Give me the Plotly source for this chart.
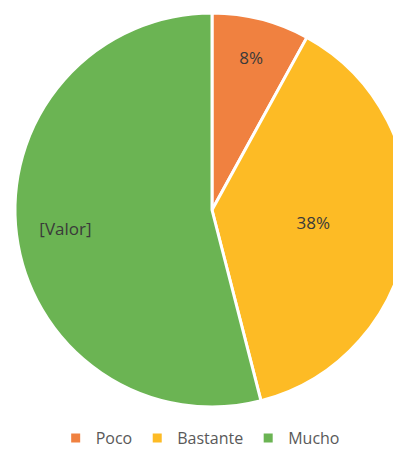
import plotly.graph_objects as go

categories = ["Poco", "Bastante", "Mucho"]
values = [8, 38, 54]
colors = ["#F08140", "#FDBB25", "#6BB453"]
# labels drawn on the full pie, and the one drawn further out on the ring
inner_text = ["%{percent:.0%}", "%{percent:.0%}", ""]
ring_text = ["", "", "[Valor]"]

label_font = dict(family="Open Sans", size=17, color="#3a3a3a")

fig = go.Figure()

fig.add_trace(go.Pie(
    labels=categories,
    values=values,
    sort=False,
    direction="clockwise",
    rotation=0,
    texttemplate=inner_text,
    textposition="inside",
    insidetextorientation="horizontal",
    textfont=label_font,
    marker=dict(colors=colors, line=dict(color="white", width=3)),
    hoverinfo="label+percent",
))

# transparent ring on top, only used to place the "[Valor]" label further out
fig.add_trace(go.Pie(
    labels=categories,
    values=values,
    sort=False,
    direction="clockwise",
    rotation=0,
    hole=0.5,
    texttemplate=ring_text,
    textposition="inside",
    insidetextorientation="horizontal",
    textfont=label_font,
    marker=dict(colors=["rgba(0,0,0,0)"] * 3, line=dict(width=0)),
    hoverinfo="skip",
    showlegend=False,
))

fig.update_layout(
    width=401,
    height=450,
    margin=dict(l=7, r=0, t=5, b=51),
    paper_bgcolor="white",
    showlegend=True,
    legend=dict(
        orientation="h",
        x=0.47, xanchor="center",
        y=-0.079, yanchor="middle",
        font=dict(family="Open Sans", size=16, color="#595959"),
        itemwidth=30,
    ),
)

fig.write_html("out.html")
